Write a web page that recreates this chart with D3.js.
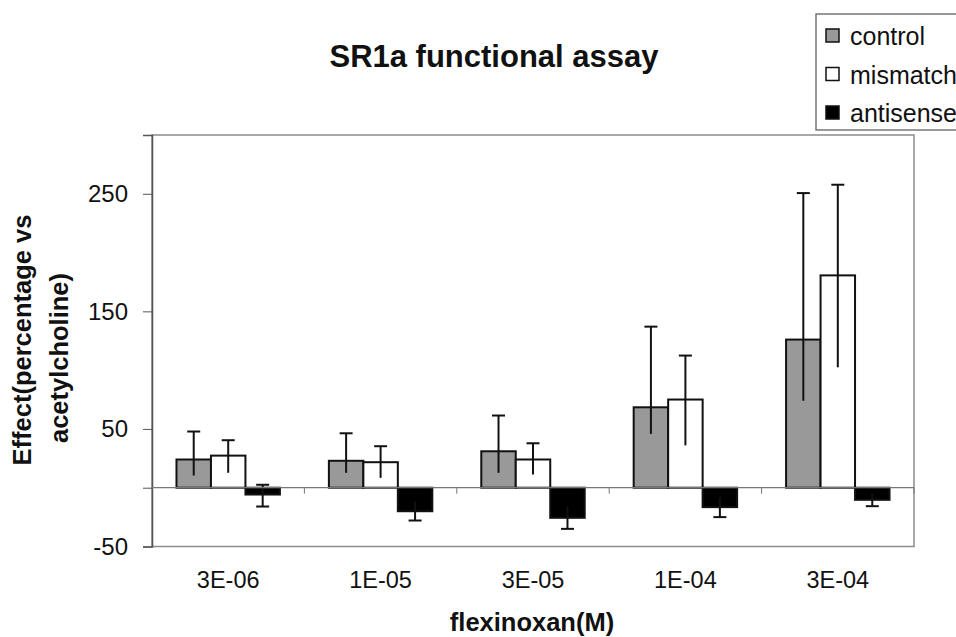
<!DOCTYPE html>
<html>
<head>
<meta charset="utf-8">
<script src="https://cdn.jsdelivr.net/npm/d3@7"></script>
<style>
  body { margin: 0; background: #fff; }
  text { font-family: "Liberation Sans", Arial, sans-serif; }
</style>
</head>
<body>
<div id="chart"></div>
<script>

// values
const categories = ['3E-06', '1E-05', '3E-05', '1E-04', '3E-04'];
const seriesNames = ['control', 'mismatch', 'antisense'];

const controlVals  = [24.0, 22.9, 31.0, 68.4, 126.0];
const controlHi    = [47.8, 46.3, 61.4, 137.0, 250.6];
const controlLo    = [10.4, 12.7, 12.7, 45.8, 74.0];

const mismatchVals = [27.3, 21.7, 24.0, 75.0, 180.6];
const mismatchHi   = [40.4, 35.3, 37.8, 112.4, 257.7];
const mismatchLo   = [12.7, 8.4, 11.2, 36.0, 102.4];

const antisenseVals = [-5.8, -20.0, -25.6, -16.5, -10.3];
const antisenseHi   = [2.5, -12.0, -16.0, -8.0, -5.0];
const antisenseLo   = [-16.0, -27.9, -35.0, -25.0, -15.7];

const yTicks = [-50, 50, 150, 250];


class BarChart {

  constructor(_parentContainer) {
    this.parentContainer = _parentContainer;
    this.initStaticVis();
  }

  initStaticVis() {
    this.widthTotal  = 956;
    this.heightTotal = 637;

    // plot area, in page pixels
    this.left   = 152;
    this.right  = 914;
    this.top    = 135;
    this.bottom = 546.5;

    this.svg = d3.select(this.parentContainer)
        .append('svg')
        .attr('width', this.widthTotal)
        .attr('height', this.heightTotal);

    this.colors = { control: '#999999', mismatch: '#ffffff', antisense: '#000000' };

    this.rows = seriesNames.map(name => {
      let vals = name === 'control' ? controlVals : name === 'mismatch' ? mismatchVals : antisenseVals;
      let hi   = name === 'control' ? controlHi   : name === 'mismatch' ? mismatchHi   : antisenseHi;
      let lo   = name === 'control' ? controlLo   : name === 'mismatch' ? mismatchLo   : antisenseLo;
      return categories.map((c, i) => ({ series: name, cat: c, v: vals[i], hi: hi[i], lo: lo[i] }));
    }).flat();

    this.createScales();
    this.addFrame();
    this.addBars();
    this.addAxes();
    this.addLabels();
    this.addLegend();
  }

  createScales() {
    this.xScale = d3.scaleBand()
          .domain(categories)
          .range([this.left, this.right]);

    this.xSub = d3.scaleBand()
          .domain(seriesNames)
          .range([0, this.xScale.bandwidth()])
          .paddingInner(0)
          .paddingOuter(0.71);

    this.yScale = d3.scaleLinear()
          .domain([-50, 300])
          .range([this.bottom, this.top]);
  }

  addFrame() {
    this.svg.append('rect')
        .attr('x', this.left)
        .attr('y', this.top)
        .attr('width', this.right - this.left)
        .attr('height', this.bottom - this.top)
        .attr('fill', 'none')
        .attr('stroke', '#8c8c8c')
        .attr('stroke-width', 1.5);
  }

  addBars() {
    let g = this.svg.append('g');

    g.selectAll('rect.bar')
      .data(this.rows)
      .enter()
      .append('rect')
        .attr('class', 'bar')
        .attr('x', d => this.xScale(d.cat) + this.xSub(d.series))
        .attr('y', d => this.yScale(Math.max(0, d.v)))
        .attr('width', this.xSub.bandwidth())
        .attr('height', d => Math.abs(this.yScale(d.v) - this.yScale(0)))
        .attr('fill', d => this.colors[d.series])
        .attr('stroke', '#111')
        .attr('stroke-width', 2);

    // error bars
    let cx = d => this.xScale(d.cat) + this.xSub(d.series) + this.xSub.bandwidth() / 2;
    let capW = 6.5;

    g.selectAll('line.err')
      .data(this.rows)
      .enter()
      .append('line')
        .attr('x1', cx)
        .attr('x2', cx)
        .attr('y1', d => this.yScale(d.hi))
        .attr('y2', d => this.yScale(d.lo))
        .attr('stroke', '#111')
        .attr('stroke-width', 2);

    // a cap only shows where the end sits outside its bar
    let caps = [];
    this.rows.forEach(d => {
      let lowB = Math.min(0, d.v), highB = Math.max(0, d.v);
      [d.hi, d.lo].forEach(e => {
        if (e > highB || e < lowB) caps.push({ d: d, e: e });
      });
    });

    g.selectAll('line.cap')
      .data(caps)
      .enter()
      .append('line')
        .attr('x1', c => cx(c.d) - capW)
        .attr('x2', c => cx(c.d) + capW)
        .attr('y1', c => this.yScale(c.e))
        .attr('y2', c => this.yScale(c.e))
        .attr('stroke', '#111')
        .attr('stroke-width', 2);
  }

  addAxes() {
    // y axis on the left
    this.yAxisCall = d3.axisLeft(this.yScale)
          .tickValues(yTicks.concat([0]))
          .tickSize(9)
          .tickPadding(15)
          .tickFormat(d => d === 0 ? '' : d);

    this.yAxis = this.svg.append('g')
          .attr('transform', `translate(${this.left}, 0)`)
          .call(this.yAxisCall);

    this.yAxis.select('.domain')
          .attr('stroke', '#555')
          .attr('stroke-width', 1.5);
    this.yAxis.selectAll('.tick line').attr('stroke', '#555');
    this.yAxis.selectAll('.tick text')
          .style('font-size', '24px')
          .attr('fill', '#111');

    // zero line with category ticks
    let y0 = this.yScale(0);
    this.svg.append('line')
        .attr('x1', this.left)
        .attr('x2', this.right)
        .attr('y1', y0)
        .attr('y2', y0)
        .attr('stroke', '#777')
        .attr('stroke-width', 1.2);

    let bounds = categories.slice(1).map(c => this.xScale(c)).concat([this.right]);
    this.svg.selectAll('line.catTick')
      .data(bounds)
      .enter()
      .append('line')
        .attr('x1', d => d)
        .attr('x2', d => d)
        .attr('y1', y0)
        .attr('y2', y0 + 6)
        .attr('stroke', '#777')
        .attr('stroke-width', 1);

    // category labels under the plot
    this.svg.selectAll('text.cat')
      .data(categories)
      .enter()
      .append('text')
        .attr('x', d => this.xScale(d) + this.xScale.bandwidth() / 2)
        .attr('y', 588)
        .attr('text-anchor', 'middle')
        .style('font-size', '23.5px')
        .attr('fill', '#111')
        .text(d => d);
  }

  addLabels() {
    this.svg.append('text')
        .attr('x', 494)
        .attr('y', 67)
        .attr('text-anchor', 'middle')
        .style('font-size', '31px')
        .style('font-weight', 'bold')
        .attr('fill', '#111')
        .text('SR1a functional assay');

    this.svg.append('text')
        .attr('x', 532)
        .attr('y', 631)
        .attr('text-anchor', 'middle')
        .style('font-size', '25.5px')
        .style('font-weight', 'bold')
        .attr('fill', '#111')
        .text('flexinoxan(M)');

    [['Effect(percentage vs', 31, 340], ['acetylcholine)', 68, 358]].forEach(([t, bx, cy]) => {
      this.svg.append('text')
          .attr('transform', `translate(${bx}, ${cy}) rotate(-90)`)
          .attr('text-anchor', 'middle')
          .style('font-size', '25.5px')
          .style('font-weight', 'bold')
          .attr('fill', '#111')
          .text(t);
    });
  }

  addLegend() {
    this.svg.append('rect')
        .attr('x', 816)
        .attr('y', 14)
        .attr('width', 160)
        .attr('height', 116)
        .attr('fill', '#fff')
        .attr('stroke', '#777')
        .attr('stroke-width', 1.5);

    seriesNames.forEach((name, idx) => {
      let row = this.svg.append('g')
        .attr('transform', `translate(0, ${idx * 38.5})`);

      row.append('rect')
          .attr('x', 826)
          .attr('y', 29)
          .attr('width', 13)
          .attr('height', 13)
          .attr('fill', this.colors[name])
          .attr('stroke', '#111')
          .attr('stroke-width', 1.5);

      row.append('text')
          .attr('x', 850)
          .attr('y', 45)
          .style('font-size', '25px')
          .attr('fill', '#111')
          .text(name);
    });
  }
}

new BarChart('#chart');

</script>
</body>
</html>
